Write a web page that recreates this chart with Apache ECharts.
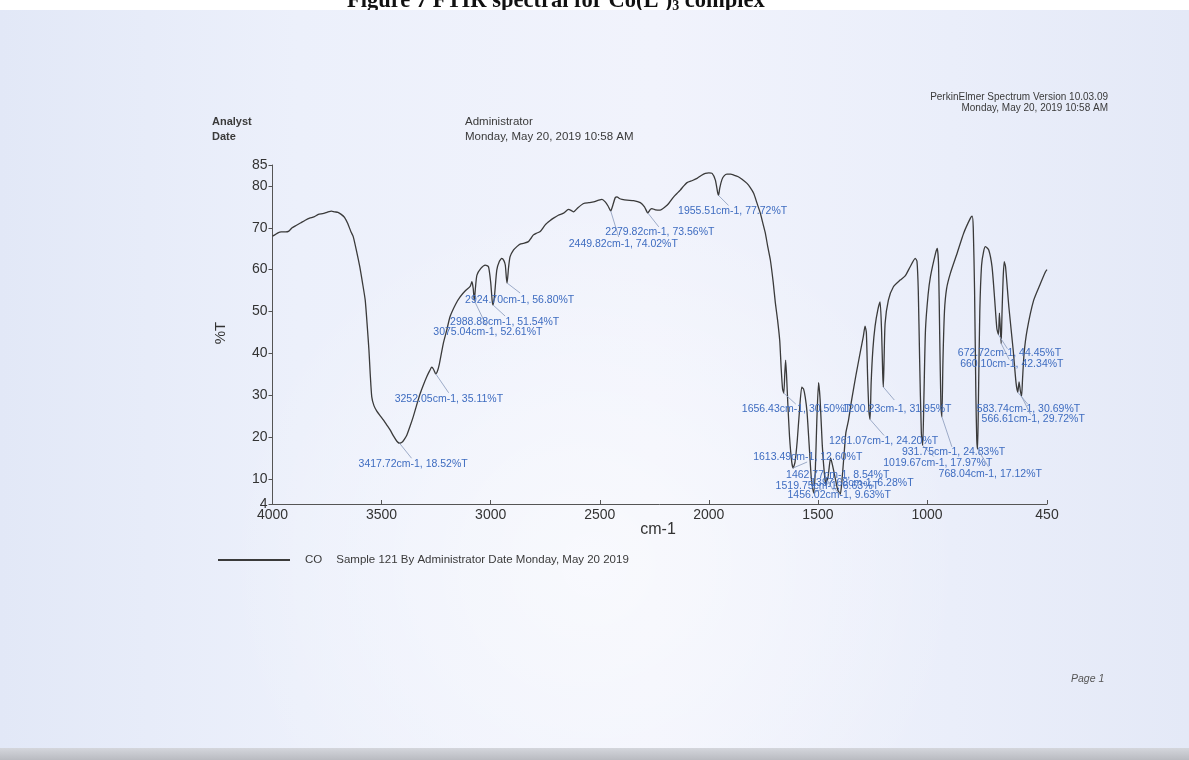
<!DOCTYPE html>
<html>
<head>
<meta charset="utf-8">
<title>FTIR spectrum – Co(L')3 complex</title>
<script src="https://cdn.jsdelivr.net/npm/echarts@6/dist/echarts.min.js"></script>
<style>
  html, body { margin: 0; padding: 0; background: #ffffff; }
  #chart { width: 1189px; height: 760px; }
</style>
</head>
<body>
<div id="chart"></div>
<script>
// Spectrum trace: wavenumber (cm-1) and transmittance (%T)
const wavenumbers = [
  4000, 3990, 3975, 3960, 3940, 3925, 3910, 3890, 3870, 3850, 3830, 3810, 3790, 3770, 3750, 3730,
  3715, 3700, 3685, 3670, 3655, 3640, 3630, 3615, 3600, 3588, 3575, 3565, 3558, 3552, 3545, 3535,
  3522, 3505, 3492, 3475, 3461, 3445, 3430, 3417.72, 3405, 3395, 3384, 3370, 3354, 3340, 3323, 3308,
  3293, 3280, 3270, 3262, 3252.05, 3245, 3235, 3217, 3201, 3186, 3160, 3140, 3115, 3094, 3086, 3080,
  3075.04, 3070, 3063, 3045, 3025, 3010, 3000, 2993, 2988.88, 2982, 2972, 2960, 2949, 2940, 2933, 2928,
  2924.70, 2918, 2911, 2895, 2880, 2865, 2850, 2827, 2815, 2804, 2790, 2773, 2750, 2730, 2712, 2690,
  2666, 2643, 2630, 2620, 2600, 2574, 2550, 2528, 2505, 2490, 2475, 2462, 2449.82, 2440, 2429, 2421,
  2410, 2398, 2375, 2345, 2314, 2295, 2279.82, 2268, 2261, 2245, 2223, 2200, 2184, 2161, 2146, 2131,
  2115, 2100, 2075, 2054, 2035, 2016, 2000, 1985, 1970, 1960, 1955.51, 1950, 1940, 1930, 1917, 1900,
  1886, 1865, 1848, 1825, 1810, 1794, 1780, 1764, 1752, 1741, 1730, 1718, 1705, 1695, 1685, 1675,
  1668, 1662, 1656.43, 1652, 1648, 1644, 1638, 1630, 1620, 1613.49, 1605, 1595, 1585, 1574, 1566, 1558,
  1550, 1540, 1530, 1519.75, 1512, 1505, 1497, 1490, 1480, 1470, 1462.77, 1459, 1456.02, 1450, 1442, 1432,
  1420, 1410, 1397.68, 1390, 1380, 1372, 1360, 1345, 1325, 1305, 1292, 1284, 1278, 1272, 1266, 1261.07,
  1256, 1248, 1238, 1225, 1215, 1208, 1203, 1200.23, 1197, 1192, 1177, 1154, 1123, 1100, 1077, 1054,
  1046, 1040, 1034, 1026, 1019.67, 1014, 1007, 995, 984, 961, 953, 947, 942, 936, 931.75, 927,
  920, 910, 893, 862, 832, 801, 793, 788, 782, 776, 772, 768.04, 764, 758, 750, 740,
  732, 717, 702, 690, 680, 672.72, 668, 664, 660.10, 656, 651, 646, 640, 625, 605, 592,
  583.74, 578, 572, 566.61, 562, 555, 541, 511, 480, 457, 450
];
const transmittance = [
  68.0, 68.3, 68.8, 69.0, 69.0, 69.2, 70.0, 70.6, 71.2, 71.8, 72.3, 72.6, 73.2, 73.4, 73.7, 74.0,
  73.8, 73.7, 73.2, 72.5, 71.0, 69.0, 67.9, 64.5, 60.7, 57.0, 52.7, 46.0, 40.8, 35.0, 29.6, 27.5,
  26.2, 25.0, 24.1, 22.8, 21.7, 20.2, 19.0, 18.52, 18.8, 19.5, 20.5, 22.5, 25.0, 27.5, 30.4, 32.5,
  34.4, 35.8, 36.7, 36.2, 35.11, 35.6, 37.5, 42.4, 45.6, 48.8, 51.8, 53.5, 55.0, 56.0, 57.1, 55.5,
  52.61, 55.5, 58.7, 60.3, 61.1, 60.7, 57.0, 52.5, 51.54, 54.0, 59.9, 62.0, 62.7, 62.2, 61.1, 58.0,
  56.80, 60.5, 63.1, 64.7, 65.5, 66.1, 66.3, 66.7, 67.5, 68.3, 68.7, 69.1, 70.7, 71.6, 72.3, 73.0,
  73.5, 74.4, 74.1, 73.8, 74.8, 75.8, 76.0, 76.2, 76.6, 76.8, 76.2, 75.2, 74.02, 75.4, 77.2, 77.4,
  77.0, 76.8, 76.6, 76.5, 76.0, 75.0, 73.56, 74.4, 74.6, 74.3, 74.2, 75.0, 75.8, 77.4, 78.2, 79.0,
  80.0, 80.8, 81.3, 81.8, 82.5, 83.0, 83.1, 83.0, 81.4, 78.5, 77.72, 79.5, 81.5, 82.4, 82.8, 82.8,
  82.6, 82.2, 81.6, 80.6, 79.6, 78.2, 76.0, 73.5, 71.0, 68.7, 65.5, 62.3, 57.0, 52.0, 48.0, 43.0,
  36.0, 31.5, 30.50, 35.0, 38.4, 35.0, 28.0, 20.0, 14.0, 12.60, 14.0, 19.0, 26.0, 31.9, 31.5, 29.5,
  26.0, 18.0, 10.0, 6.63, 12.0, 24.0, 33.0, 29.0, 18.0, 11.0, 8.54, 10.2, 9.63, 12.0, 15.0, 13.0,
  10.0, 7.5, 6.28, 9.5, 16.0, 21.0, 24.0, 29.0, 35.0, 40.5, 44.0, 46.5, 45.0, 34.0, 26.0, 24.20,
  33.0, 41.0, 46.5, 50.5, 52.3, 45.0, 35.0, 31.95, 38.0, 47.2, 52.7, 55.9, 57.5, 58.5, 60.7, 62.7,
  62.0, 55.0, 39.0, 21.0, 17.97, 30.0, 45.6, 54.0, 58.4, 63.9, 65.1, 61.0, 45.0, 27.0, 24.83, 38.0,
  50.0, 55.5, 59.1, 63.9, 68.7, 72.3, 72.8, 70.0, 55.0, 30.0, 19.5, 17.12, 30.0, 50.0, 61.0, 64.5,
  65.5, 64.7, 60.7, 53.0, 46.0, 44.45, 49.6, 46.0, 42.34, 50.0, 58.0, 61.9, 60.7, 51.2, 40.8, 33.0,
  30.69, 33.2, 31.0, 29.72, 34.0, 40.0, 45.6, 52.7, 56.7, 59.5, 60.0
];

// Picked peaks
const peakWavenumbers = [
  3417.72, 3252.05, 3075.04, 2988.88, 2924.70, 2449.82, 2279.82, 1955.51,
  1656.43, 1613.49, 1519.75, 1462.77, 1456.02, 1397.68, 1261.07, 1200.23,
  1019.67, 931.75, 768.04, 672.72, 660.10, 583.74, 566.61
];
const peakTransmittance = [
  18.52, 35.11, 52.61, 51.54, 56.80, 74.02, 73.56, 77.72,
  30.50, 12.60, 6.63, 8.54, 9.63, 6.28, 24.20, 31.95,
  17.97, 24.83, 17.12, 44.45, 42.34, 30.69, 29.72
];

const xTickValues = [4000, 3500, 3000, 2500, 2000, 1500, 1000, 450];
const yTickValues = [4, 10, 20, 30, 40, 50, 60, 70, 80, 85];

// Peak label placement in pixels relative to the peak: [text dx, text dy, leader dx, leader dy]
const peakLabelOffsets = [
  [-41, 21, 12, 15], [-41, 25, 13, 19], [-41, 32, 12, 25], [-43, 17, 12, 11],
  [-42, 17, 13, 10], [-42, 33, 8, 26], [-42.5, 19.5, 11, 14], [-40.5, 16, 10, 10],
  [-42, 16, 12, 11], [-40, -11, 14, -6], [-38, -7, 8, -4], [-40, -10, 8, -6],
  [-40, 15, 6, 10], [-30, -11, -6, -6], [-41, 22, 14, 16], [-41, 22, 11, 13],
  [-39.5, 18, 11, 11], [-40, 35, 10, 30], [-39, 25, 11, 18], [-40.6, 18.6, 9, 14],
  [-41, 21, 8, 16], [-41, 17, 10, 12], [-40, 23, 9, 18]
];

const SANS = '"Liberation Sans", Arial, sans-serif';

const spectrum = wavenumbers.map((w, i) => [w, transmittance[i]]);
const peaks = peakWavenumbers.map((w, i) => [w, peakTransmittance[i]]);

const chart = echarts.init(document.getElementById('chart'), null, { renderer: 'canvas' });

chart.setOption({
  backgroundColor: '#ffffff',
  animation: false,
  graphic: [
    // report title (lower part hidden under the scanned sheet)
    {
      type: 'text', x: 347, y: 1.5, z: -2,
      style: {
        text: '{a|Figure 7 FTIR spectral for Co(L\')}{s|3}{a| complex}',
        verticalAlign: 'middle',
        rich: {
          a: { fontFamily: '"Liberation Serif", "Times New Roman", serif', fontWeight: 'bold', fontSize: 22.5, fill: '#111' },
          s: { fontFamily: '"Liberation Serif", "Times New Roman", serif', fontWeight: 'bold', fontSize: 14, fill: '#111', padding: [10, 0, 0, 0] }
        }
      }
    },
    // sheet
    {
      type: 'rect', z: -1,
      shape: { x: 0, y: 10, width: 1189, height: 740 },
      style: {
        fill: {
          type: 'linear', x: 0, y: 0, x2: 1, y2: 0,
          colorStops: [
            { offset: 0, color: '#e2e8f7' },
            { offset: 0.25, color: '#ecf0fb' },
            { offset: 0.55, color: '#f1f3fc' },
            { offset: 0.8, color: '#eaeefa' },
            { offset: 1, color: '#e4e9f7' }
          ]
        }
      }
    },
    {
      type: 'rect', z: -1,
      shape: { x: 0, y: 10, width: 1189, height: 740 },
      style: {
        fill: {
          type: 'radial', x: 0.5, y: 0.75, r: 0.5,
          colorStops: [
            { offset: 0, color: 'rgba(255,255,255,0.55)' },
            { offset: 1, color: 'rgba(255,255,255,0)' }
          ]
        }
      }
    },
    {
      type: 'rect', z: -1,
      shape: { x: 0, y: 748, width: 1189, height: 12 },
      style: {
        fill: {
          type: 'linear', x: 0, y: 0, x2: 0, y2: 1,
          colorStops: [
            { offset: 0, color: '#d4d6dc' },
            { offset: 1, color: '#b9bbc1' }
          ]
        }
      }
    },
    // header block
    { type: 'text', x: 212, y: 122, style: { text: 'Analyst', font: 'bold 11px ' + SANS, fill: '#3a3a3a', verticalAlign: 'middle' } },
    { type: 'text', x: 212, y: 137, style: { text: 'Date', font: 'bold 11px ' + SANS, fill: '#3a3a3a', verticalAlign: 'middle' } },
    { type: 'text', x: 465, y: 122, style: { text: 'Administrator', font: '11.5px ' + SANS, fill: '#3a3a3a', verticalAlign: 'middle' } },
    { type: 'text', x: 465, y: 137, style: { text: 'Monday, May 20, 2019 10:58 AM', font: '11.5px ' + SANS, fill: '#3a3a3a', verticalAlign: 'middle' } },
    { type: 'text', x: 1108, y: 97, style: { text: 'PerkinElmer Spectrum Version 10.03.09', font: '10px ' + SANS, fill: '#3a3a3a', align: 'right', verticalAlign: 'middle' } },
    { type: 'text', x: 1108, y: 108, style: { text: 'Monday, May 20, 2019 10:58 AM', font: '10px ' + SANS, fill: '#3a3a3a', align: 'right', verticalAlign: 'middle' } },
    // axis titles
    { type: 'text', x: 221, y: 333, rotation: Math.PI / 2, style: { text: '%T', font: '15px ' + SANS, fill: '#333', align: 'center', verticalAlign: 'middle' } },
    { type: 'text', x: 658, y: 530, style: { text: 'cm-1', font: '16px ' + SANS, fill: '#333', align: 'center', verticalAlign: 'middle' } },
    // page footer
    { type: 'text', x: 1071, y: 679, style: { text: 'Page 1', font: 'italic 10.5px ' + SANS, fill: '#555', verticalAlign: 'middle' } }
  ],
  grid: { left: 272.5, right: 142, top: 165, bottom: 256, containLabel: false },
  legend: {
    left: 218, top: 554, padding: 0,
    icon: 'rect', itemWidth: 72, itemHeight: 2,
    data: ['CO'],
    formatter: () => '{a|CO}{b|Sample 121 By Administrator Date Monday, May 20 2019}',
    textStyle: {
      rich: {
        a: { fontFamily: SANS, fontSize: 11.5, color: '#3a3a3a', padding: [0, 0, 0, 10] },
        b: { fontFamily: SANS, fontSize: 11.5, color: '#3a3a3a', padding: [0, 0, 0, 14] }
      }
    }
  },
  xAxis: {
    type: 'value', inverse: true, min: 450, max: 4000,
    axisLine: { show: true, lineStyle: { color: '#555', width: 1 } },
    axisTick: { show: true, inside: true, length: 4, customValues: xTickValues, lineStyle: { color: '#555' } },
    axisLabel: { customValues: xTickValues, formatter: v => String(v), fontFamily: SANS, fontSize: 14, color: '#333', margin: 4 },
    splitLine: { show: false }
  },
  yAxis: {
    type: 'value', min: 4, max: 85,
    axisLine: { show: true, lineStyle: { color: '#555', width: 1 } },
    axisTick: { show: true, inside: false, length: 4, customValues: yTickValues, lineStyle: { color: '#555' } },
    axisLabel: { customValues: yTickValues, formatter: v => String(v), fontFamily: SANS, fontSize: 14, color: '#333', margin: 5 },
    splitLine: { show: false }
  },
  series: [
    {
      name: 'CO',
      type: 'line',
      data: spectrum,
      showSymbol: false,
      smooth: 0.2,
      lineStyle: { color: '#3a3a3a', width: 1.3 },
      itemStyle: { color: '#3a3a3a' },
      z: 3
    },
    {
      name: 'peaks',
      type: 'custom',
      data: peaks,
      clip: false,
      z: 4,
      renderItem: (params, api) => {
        const i = params.dataIndex;
        const w = api.value(0);
        const t = api.value(1);
        const p = api.coord([w, t]);
        const o = peakLabelOffsets[i];
        return {
          type: 'group',
          children: [
            {
              type: 'line',
              shape: { x1: p[0], y1: p[1], x2: p[0] + o[2], y2: p[1] + o[3] },
              style: { stroke: '#93a3c2', lineWidth: 0.9 }
            },
            {
              type: 'text',
              x: p[0] + o[0], y: p[1] + o[1],
              style: {
                text: w.toFixed(2) + 'cm-1, ' + t.toFixed(2) + '%T',
                font: '10.5px ' + SANS,
                fill: '#3e6cc0',
                align: 'left', verticalAlign: 'middle'
              }
            }
          ]
        };
      }
    }
  ]
});
</script>
</body>
</html>
